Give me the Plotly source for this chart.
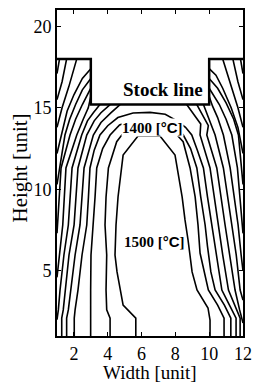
import plotly.graph_objects as go

# ---- data (data units) ----
# furnace burden outline / stock line
outline_x = [1, 3, 3, 10, 10, 12]
outline_y = [18, 18, 15.2, 15.2, 18, 18]

# contour lines (isotherms), outer ones split at the stock line
A1_x = [5.66, 5.66, 4.91, 4.55, 4.43, 4.49, 4.61, 4.79, 4.91, 5.79, 7.09, 7.98, 8.40, 8.57, 8.75, 8.99, 9.28, 9.93, 10.05, 10.05]
A1_y = [1, 2.10, 2.90, 4.93, 5.97, 7.81, 9.53, 11.18, 12.10, 13.27, 13.27, 12.10, 9.53, 8.12, 6.89, 4.93, 3.82, 2.72, 1.98, 1]

A2_x = [4.14, 4.14, 3.94, 3.90, 3.94, 3.84, 3.90, 4.04, 4.53, 4.83, 5.4, 6.4, 7.5, 8.1, 8.46, 8.87, 9.17, 9.34, 9.46, 9.70, 9.95, 10.50, 10.88, 10.88]
A2_y = [1, 2.10, 2.60, 3.82, 5.97, 7.81, 9.53, 11.31, 12.92, 13.33, 13.76, 13.80, 13.76, 13.33, 12.92, 11.31, 9.53, 7.81, 6.09, 4.93, 3.82, 2.90, 2.10, 1]

A3_x = [2.99, 2.99, 2.95, 2.99, 3.01, 3.15, 3.25, 3.35, 3.7, 4.14, 4.7, 5.5, 7.3, 8.0, 8.47, 8.9, 9.27, 9.5, 9.76, 9.9, 10.1, 10.35, 10.9, 11.28, 11.28]
A3_y = [1, 2.1, 2.6, 3.82, 5.97, 7.81, 9.53, 11.31, 12.5, 13.33, 13.95, 14.25, 14.25, 13.9, 13.33, 12.5, 11.31, 9.53, 7.81, 6.5, 4.93, 3.82, 2.9, 2.1, 1]

A4_x = [2.02, 2.02, 2.07, 2.24, 2.48, 2.76, 2.86, 2.95, 3.2, 3.54, 4.0, 4.6, 5.5, 6.5, 7.4, 8.1, 8.6, 8.97, 9.3, 9.66, 9.9, 10.15, 10.4, 10.75, 11.2, 11.59, 11.59]
A4_y = [1, 2.1, 2.6, 3.82, 5.97, 7.81, 9.53, 11.31, 12.4, 13.33, 13.9, 14.4, 14.68, 14.72, 14.6, 14.2, 13.8, 13.33, 12.4, 11.31, 9.53, 7.81, 5.97, 3.82, 2.9, 2.1, 1]

A5L_x = [1.57, 1.57, 1.67, 1.83, 2.07, 2.36, 2.48, 2.6, 3.15, 3.6, 4.2, 4.73]
A5L_y = [1, 2.1, 2.6, 3.82, 5.97, 7.81, 9.53, 11.31, 13.33, 14.1, 14.7, 15.2]
A5R_x = [8.67, 9.1, 9.5, 9.46, 10.05, 10.3, 10.53, 10.8, 11.14, 11.5, 11.83, 11.83]
A5R_y = [15.2, 14.6, 14.0, 13.33, 11.31, 9.53, 7.81, 5.97, 3.82, 2.9, 2.1, 1]

A6L_x = [1.28, 1.28, 1.37, 1.50, 1.71, 2.01, 2.24, 2.76, 3.2, 3.6, 4.14]
A6L_y = [1, 2.1, 2.6, 3.82, 5.97, 7.81, 11.31, 13.33, 14.2, 14.7, 15.2]
A6R_x = [9.27, 9.6, 9.95, 9.86, 10.45, 10.94, 11.2, 11.53, 11.8, 12.0]
A6R_y = [15.2, 14.6, 13.9, 13.33, 11.31, 7.81, 5.97, 3.82, 2.6, 1.8]

A7L_x = [1.0, 1.08, 1.18, 1.41, 1.67, 1.89, 2.46, 2.8, 3.15, 3.54]
A7L_y = [2.0, 2.6, 3.82, 5.97, 7.81, 11.31, 13.33, 14.2, 14.7, 15.2]
A7R_x = [9.66, 10.0, 10.35, 10.84, 11.34, 11.6, 11.83, 12.0]
A7R_y = [15.2, 14.3, 13.33, 11.31, 7.81, 5.97, 3.82, 3.2]

A8L_x = [1.0, 1.15, 1.34, 1.53, 2.17, 2.55, 2.85, 3.0]
A8L_y = [4.6, 5.97, 7.81, 11.31, 13.33, 14.3, 15.0, 15.7]
A8R_x = [10.0, 10.2, 10.5, 10.84, 11.24, 11.71, 11.89, 12.0]
A8R_y = [15.7, 15.1, 14.4, 13.33, 11.31, 7.81, 5.97, 5.0]

A9L_x = [1.0, 1.24, 1.77, 2.1, 2.5, 3.0]
A9L_y = [7.3, 11.31, 13.33, 14.3, 15.2, 16.2]
A9R_x = [10.0, 10.6, 11.0, 11.34, 11.67, 11.93, 12.0]
A9R_y = [16.2, 15.2, 14.3, 13.33, 11.31, 7.81, 7.3]

A10L_x = [1.0, 1.47, 1.75, 2.1, 2.5, 3.0]
A10L_y = [10.3, 13.33, 14.3, 15.2, 16.1, 16.8]
A10R_x = [10.0, 10.5, 11.0, 11.45, 11.73, 12.0]
A10R_y = [16.8, 16.2, 15.3, 14.3, 13.33, 10.3]

A11L_x = [1.0, 1.3, 1.6, 2.0, 2.5, 3.0]
A11L_y = [12.2, 13.6, 14.8, 15.8, 16.8, 17.4]
A11R_x = [10.0, 10.4, 10.8, 11.3, 11.7, 12.0]
A11R_y = [17.4, 17.0, 16.2, 15.0, 13.8, 12.2]

A12L_x = [1.0, 1.3, 1.7, 2.17]
A12L_y = [13.8, 15.0, 16.3, 18.0]
A12R_x = [10.8, 11.3, 11.7, 12.0]
A12R_y = [18.0, 16.3, 15.0, 13.8]

A13L_x = [1.0, 1.3, 1.57]
A13L_y = [15.5, 16.6, 18.0]
A13R_x = [11.4, 11.7, 12.0]
A13R_y = [18.0, 16.6, 15.5]

A14L_x = [1.0, 1.15]
A14L_y = [17.1, 18.0]
A14R_x = [11.85, 12.0]
A14R_y = [18.0, 17.1]

contours = [
    (A1_x, A1_y), (A2_x, A2_y), (A3_x, A3_y), (A4_x, A4_y),
    (A5L_x, A5L_y), (A5R_x, A5R_y), (A6L_x, A6L_y), (A6R_x, A6R_y),
    (A7L_x, A7L_y), (A7R_x, A7R_y), (A8L_x, A8L_y), (A8R_x, A8R_y),
    (A9L_x, A9L_y), (A9R_x, A9R_y), (A10L_x, A10L_y), (A10R_x, A10R_y),
    (A11L_x, A11L_y), (A11R_x, A11R_y), (A12L_x, A12L_y), (A12R_x, A12R_y),
    (A13L_x, A13L_y), (A13R_x, A13R_y), (A14L_x, A14L_y), (A14R_x, A14R_y),
]

x_ticks = [2, 4, 6, 8, 10, 12]
y_ticks = [5, 10, 15, 20]
x_title = "Width [unit]"
y_title = "Height [unit]"

label_texts = ["Stock line", "1400 [°C]", "1500 [°C]"]
label_x = [7.25, 6.62, 6.79]
label_y = [16.1, 13.82, 6.77]

# ---- figure ----
fig = go.Figure()
for cx, cy in contours:
    fig.add_trace(go.Scatter(x=cx, y=cy, mode="lines",
                             line=dict(color="black", width=1.6),
                             hoverinfo="skip", showlegend=False))
fig.add_trace(go.Scatter(x=outline_x, y=outline_y, mode="lines",
                         line=dict(color="black", width=2.5),
                         hoverinfo="skip", showlegend=False))

serif = "Liberation Serif"
fig.add_annotation(x=label_x[0], y=label_y[0], text="<b>" + label_texts[0] + "</b>",
                   showarrow=False, font=dict(family=serif, size=19, color="black"))
for i in (1, 2):
    num, unit = label_texts[i].split(" ")
    fig.add_annotation(
        x=label_x[i], y=label_y[i],
        text="<b>" + num + " [<span style='font-family:Liberation Sans'>°C</span>]</b>",
        showarrow=False, bgcolor="white", borderpad=0,
        font=dict(family=serif, size=15, color="black"))

# axis titles placed as paper annotations
fig.add_annotation(x=0.5, y=-0.113, xref="paper", yref="paper", text=x_title,
                   showarrow=False, yanchor="middle",
                   font=dict(family=serif, size=19, color="black"))
fig.add_annotation(x=-0.197, y=0.515, xref="paper", yref="paper", text=y_title,
                   showarrow=False, textangle=-90, xanchor="center", yanchor="middle",
                   font=dict(family=serif, size=21, color="black"))

axis_common = dict(showline=True, linecolor="black", linewidth=2, mirror="ticks",
                   ticks="inside", ticklen=4, tickwidth=1, tickcolor="black",
                   showgrid=False, zeroline=False, automargin=False,
                   tickfont=dict(family=serif, size=18, color="black"))
fig.update_xaxes(range=[1, 12], tickvals=x_ticks, **axis_common)
fig.update_yaxes(range=[1, 21], tickvals=y_ticks, **axis_common)
fig.update_layout(width=253, height=385, margin=dict(l=57, r=10, t=10, b=49, autoexpand=False),
                  plot_bgcolor="white", paper_bgcolor="white")
fig.write_html("out.html", config={"displayModeBar": False},
               post_script="document.body.style.margin='0';document.body.style.overflow='hidden';")
